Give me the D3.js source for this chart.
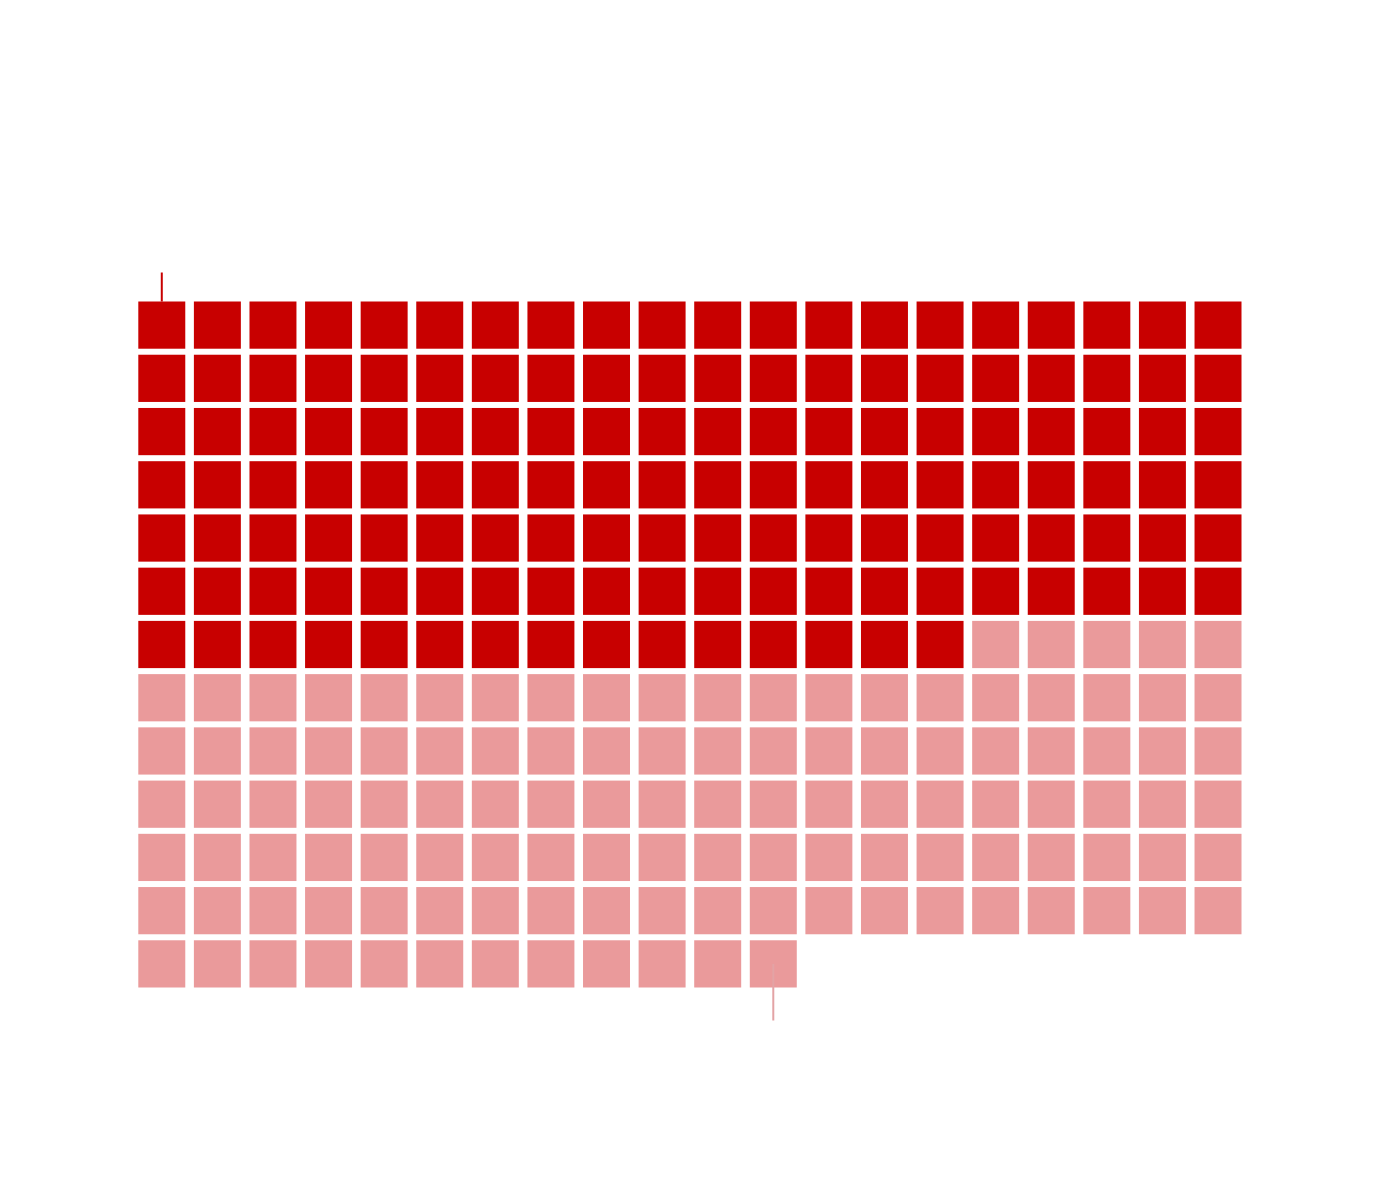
<!DOCTYPE html>
<html>
<head>
<meta charset="utf-8">
<script src="https://cdn.jsdelivr.net/npm/d3@7"></script>
<style>
  body { margin: 0; background: #fff; }
</style>
</head>
<body>
<div id="chart"></div>
<script>
// Waffle data
const categories = ["first", "second"];
const counts = [135, 117];
const colors = ["#c80000", "#ea9a9b"];
const nCols = 20;
const nRows = 13;

const width = 1380;
const height = 1202;

// build one cell per unit
const cells = [];
categories.forEach((c, ci) => {
    for (let k = 0; k < counts[ci]; k++) {
        const i = cells.length;
        cells.push({ cat: c, ci: ci, col: i % nCols, row: Math.floor(i / nCols) });
    }
});

const xScale = d3.scaleBand()
    .domain(d3.range(nCols))
    .range([138.3, 1241.5])
    .paddingInner(0.155);

const yScale = d3.scaleBand()
    .domain(d3.range(nRows))
    .range([301.5, 987.5])
    .paddingInner(0.113);

const color = d3.scaleOrdinal().domain(categories).range(colors);

const svg = d3.select("#chart")
    .append("svg")
    .attr("width", width)
    .attr("height", height);

svg.append("g")
    .selectAll("rect")
    .data(cells)
    .join("rect")
    .attr("x", d => xScale(d.col))
    .attr("y", d => yScale(d.row))
    .attr("width", xScale.bandwidth())
    .attr("height", yScale.bandwidth())
    .attr("fill", d => color(d.cat));

// leader lines at the first cell of the first group and the last cell of the second
const first = cells[0];
const last = cells[cells.length - 1];
const bw = xScale.bandwidth() / 2;

svg.append("line")
    .attr("x1", xScale(first.col) + bw)
    .attr("x2", xScale(first.col) + bw)
    .attr("y1", yScale(first.row) - 29)
    .attr("y2", yScale(first.row))
    .attr("stroke", colors[0])
    .attr("stroke-width", 2);

svg.append("line")
    .attr("x1", xScale(last.col) + bw)
    .attr("x2", xScale(last.col) + bw)
    .attr("y1", yScale(last.row) + yScale.bandwidth() / 2)
    .attr("y2", yScale(last.row) + yScale.bandwidth() + 33)
    .attr("stroke", "#e3a3a5")
    .attr("stroke-width", 2);
</script>
</body>
</html>
